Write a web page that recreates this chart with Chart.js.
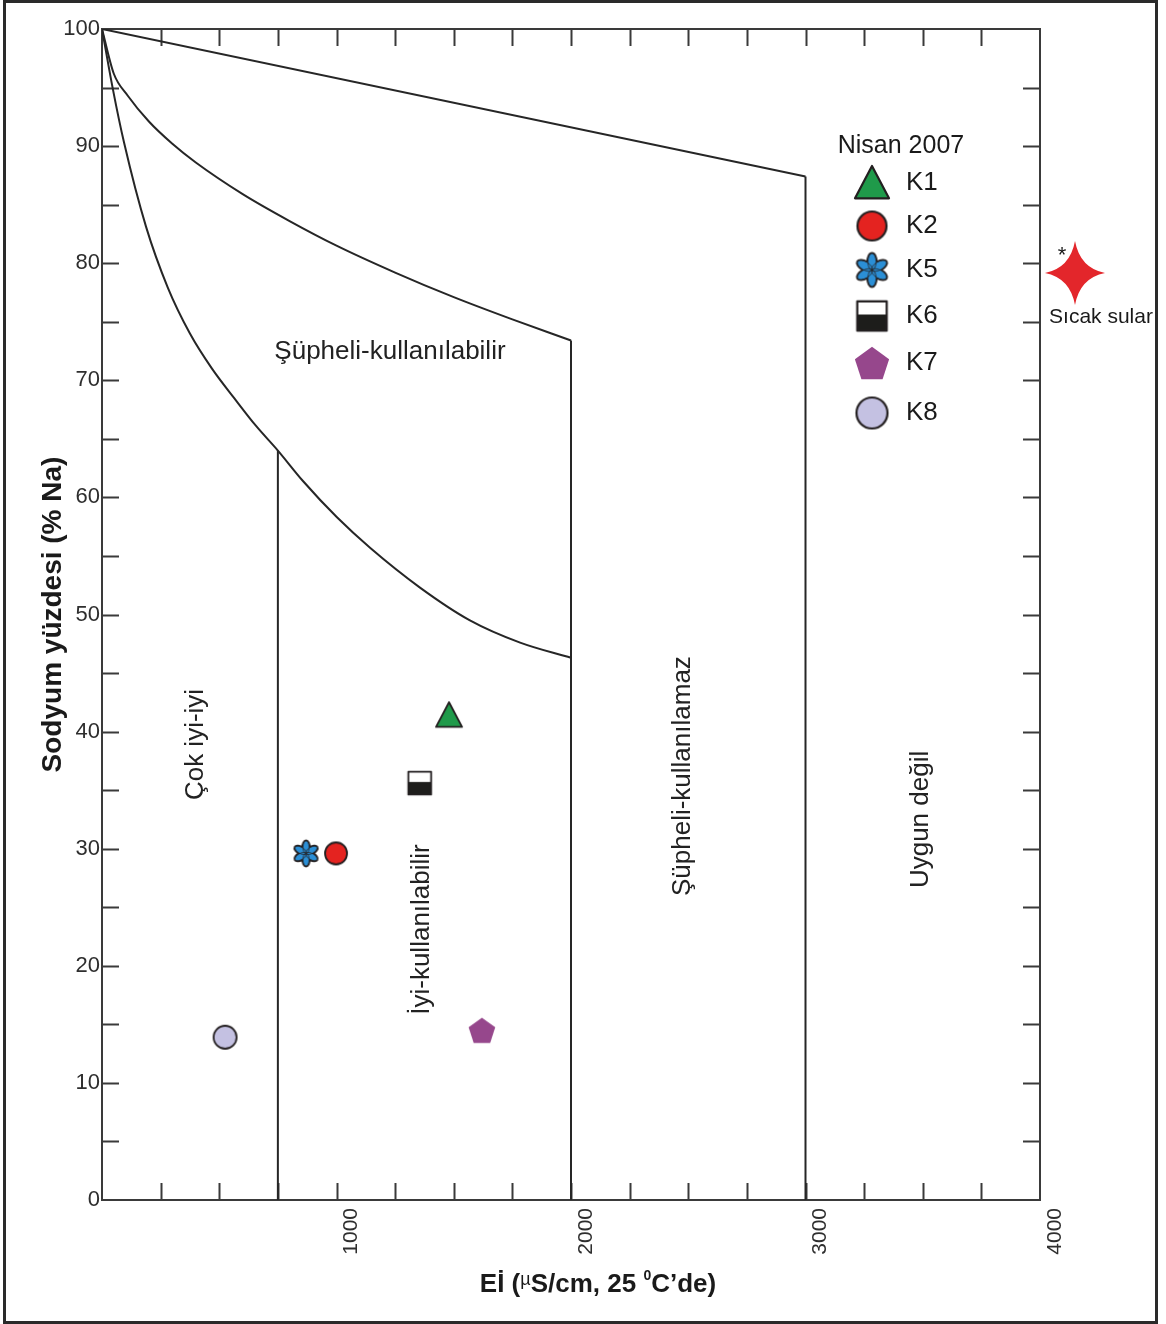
<!DOCTYPE html>
<html lang="tr">
<head>
<meta charset="UTF-8" />
<meta name="viewport" content="width=device-width, initial-scale=1.0" />
<title>Wilcox Diyagramı - Nisan 2007</title>
<style>
    html, body { margin: 0; padding: 0; background: #fff; }
    #grafik { display: block; }
</style>
</head>
<body>
<canvas id="grafik" width="1166" height="1324"></canvas>

<script src="https://cdn.jsdelivr.net/npm/chart.js"></script>
<script>
    // Örnek noktaları (Nisan 2007)
    const kuyular = ["K1", "K2", "K5", "K6", "K7", "K8"];
    const ecDegerleri = [1480, 998, 870, 1355, 1620, 525];
    const naDegerleri = [41.4, 29.6, 29.6, 35.6, 14.5, 13.9];

    // Sınıf sınırları (diyagramdan okunan noktalar)
    const ustCizgiX = [0, 3000];
    const ustCizgiY = [100, 87.4];
    const ortaEgriX = [0, 50, 110, 200, 300, 400, 600, 800, 1000, 1250, 1500, 1750, 2000];
    const ortaEgriY = [100, 96.2, 94.3, 92.1, 90.2, 88.6, 85.9, 83.6, 81.5, 79.2, 77.1, 75.2, 73.4];
    const altEgriX = [0, 47, 94, 188, 281, 375, 469, 563, 657, 750, 857, 1002, 1143, 1356, 1569, 1783, 2000];
    const altEgriY = [100, 94.8, 90.3, 83.1, 77.9, 74.0, 71.0, 68.5, 66.1, 64, 61.4, 58.3, 55.7, 52.3, 49.5, 47.6, 46.3];
    const dikeyX = [750, 2000, 3000];
    const dikeyUstY = [64, 73.4, 87.4];

    // Eksen çentikleri ve etiketleri
    const xEtiketleri = [1000, 2000, 3000, 4000];
    const yEtiketleri = [0, 10, 20, 30, 40, 50, 60, 70, 80, 90, 100];

    const bolgeAdlari = ["Çok iyi-iyi", "İyi-kullanılabilir", "Şüpheli-kullanılabilir", "Şüpheli-kullanılamaz", "Uygun değil"];

    // --- görünüm ayarları ---
    const YAZI = '"Liberation Sans", Arial, Helvetica, sans-serif';
    Chart.defaults.font.family = YAZI;

    const isaretStili = {
        K1: { tur: "ucgen", renk: "#1f9a4a", boy: 26 },
        K2: { tur: "daire", renk: "#e42320", boy: 24 },
        K5: { tur: "cicek", renk: "#2b8fd6", boy: 25 },
        K6: { tur: "yarimKare", renk: "#1d1d1b", boy: 24 },
        K7: { tur: "besgen", renk: "#96478c", boy: 28 },
        K8: { tur: "daire", renk: "#c4c1e2", boy: 25 }
    };
    const lejantSatirlari = [0, 43, 87, 133, 180, 230];

    // bölge adlarının yeri (veri koordinatında) ve yönü
    const bolgeYerleri = [
        { x: 400, y: 38.9, dikey: true },
        { x: 1365, y: 23.1, dikey: true },
        { x: 1228, y: 72.4, dikey: false },
        { x: 2478, y: 36.2, dikey: true },
        { x: 3493, y: 32.5, dikey: true }
    ];

    function isaret(tur, renk, boy) {
        const pay = 3;
        const c = document.createElement("canvas");
        c.width = c.height = Math.ceil(boy + pay * 2);
        const g = c.getContext("2d");
        const m = c.width / 2, r = boy / 2;
        g.lineWidth = boy > 28 ? 2.2 : 1.8;
        g.strokeStyle = "#231f20";
        g.lineJoin = "round";
        g.fillStyle = renk;
        if (tur === "daire") {
            g.beginPath();
            g.arc(m, m, r - 1, 0, Math.PI * 2);
            g.fill();
            g.stroke();
        } else if (tur === "ucgen") {
            g.beginPath();
            g.moveTo(m, m - r);
            g.lineTo(m + r, m + r * 0.9);
            g.lineTo(m - r, m + r * 0.9);
            g.closePath();
            g.fill();
            g.stroke();
        } else if (tur === "yarimKare") {
            const k = r * 0.95;
            g.fillStyle = "#fff";
            g.fillRect(m - k, m - k, 2 * k, 2 * k);
            g.fillStyle = renk;
            g.fillRect(m - k, m - k * 0.1, 2 * k, k * 1.1);
            g.strokeRect(m - k, m - k, 2 * k, 2 * k);
        } else if (tur === "besgen") {
            g.beginPath();
            for (let i = 0; i < 5; i++) {
                const a = -Math.PI / 2 + i * 2 * Math.PI / 5;
                g.lineTo(m + r * Math.cos(a), m + r * Math.sin(a) + r * 0.1);
            }
            g.closePath();
            g.fill();
        } else if (tur === "cicek") {
            // önce kalın dış kontur, sonra dolgu, sonra ince iç çizgiler
            const yaprak = i => {
                const a = i * Math.PI / 3 - Math.PI / 2;
                g.beginPath();
                g.ellipse(m + Math.cos(a) * r * 0.5, m + Math.sin(a) * r * 0.5, r * 0.5, r * 0.25, a, 0, Math.PI * 2);
            };
            g.lineWidth = 3;
            for (let i = 0; i < 6; i++) { yaprak(i); g.stroke(); }
            for (let i = 0; i < 6; i++) { yaprak(i); g.fill(); }
            g.lineWidth = 0.8;
            for (let i = 0; i < 6; i++) { yaprak(i); g.stroke(); }
        }
        return c;
    }

    function yildiz(yukseklik, genislik) {
        const c = document.createElement("canvas");
        c.width = genislik + 4;
        c.height = yukseklik + 4;
        const g = c.getContext("2d");
        const mx = c.width / 2, my = c.height / 2;
        const ry = yukseklik / 2, rx = genislik / 2, ic = 5;
        g.fillStyle = "#e3262b";
        g.beginPath();
        g.moveTo(mx, my - ry);
        g.quadraticCurveTo(mx + ic, my - ic, mx + rx, my);
        g.quadraticCurveTo(mx + ic, my + ic, mx, my + ry);
        g.quadraticCurveTo(mx - ic, my + ic, mx - rx, my);
        g.quadraticCurveTo(mx - ic, my - ic, mx, my - ry);
        g.fill();
        return c;
    }

    const isaretVeri = kuyular.map((k, i) => {
        const s = isaretStili[k];
        return {
            label: k,
            data: [{ x: ecDegerleri[i], y: naDegerleri[i] }],
            pointStyle: isaret(s.tur, s.renk, s.boy),
            lejantIsareti: isaret(s.tur, s.renk, Math.round(s.boy * 1.3)),
            pointRadius: 12,
            showLine: false
        };
    });

    function cizgi(xs, ys, egri) {
        return {
            label: "",
            data: xs.map((v, i) => ({ x: v, y: ys[i] })),
            showLine: true,
            pointRadius: 0,
            borderColor: "#262626",
            borderWidth: 2,
            cubicInterpolationMode: egri ? "monotone" : "default",
            tension: 0,
            fill: false
        };
    }

    const cizgiVeri = [
        cizgi(ustCizgiX, ustCizgiY, false),
        cizgi(ortaEgriX, ortaEgriY, true),
        cizgi(altEgriX, altEgriY, true)
    ];
    dikeyX.forEach((x, i) => cizgiVeri.push(cizgi([x, x], [0, dikeyUstY[i]], false)));

    function zenginYazi(ctx, parcalar, cx, cy) {
        let toplam = 0;
        parcalar.forEach(p => { ctx.font = p.f; p.w = ctx.measureText(p.t).width; toplam += p.w; });
        let x = cx - toplam / 2;
        ctx.textAlign = "left";
        ctx.textBaseline = "middle";
        parcalar.forEach(p => {
            ctx.font = p.f;
            ctx.fillText(p.t, x, cy + (p.dy || 0));
            x += p.w;
        });
    }

    const cizimEklentisi = {
        id: "wilcoxCizim",
        beforeDatasetsDraw(chart) {
            const { ctx, chartArea: a, scales: { x, y } } = chart;
            ctx.save();
            ctx.strokeStyle = "#3a3a3a";
            ctx.lineWidth = 2;
            ctx.strokeRect(a.left, a.top, a.right - a.left, a.bottom - a.top);

            // içe bakan çentikler
            const cent = 17;
            ctx.beginPath();
            x.ticks.forEach(t => {
                const px = Math.round(x.getPixelForValue(t.value)) + 0.5;
                if (px <= a.left + 2 || px >= a.right - 2) return;
                ctx.moveTo(px, a.bottom); ctx.lineTo(px, a.bottom - cent);
                ctx.moveTo(px, a.top); ctx.lineTo(px, a.top + cent);
            });
            y.ticks.forEach(t => {
                const py = Math.round(y.getPixelForValue(t.value)) + 0.5;
                if (py <= a.top + 2 || py >= a.bottom - 2) return;
                ctx.moveTo(a.left, py); ctx.lineTo(a.left + cent, py);
                ctx.moveTo(a.right, py); ctx.lineTo(a.right - cent, py);
            });
            ctx.stroke();

            // bölge adları
            ctx.fillStyle = "#222";
            ctx.font = "26px " + YAZI;
            ctx.textAlign = "center";
            ctx.textBaseline = "middle";
            bolgeAdlari.forEach((ad, i) => {
                const yer = bolgeYerleri[i];
                ctx.save();
                ctx.translate(x.getPixelForValue(yer.x), y.getPixelForValue(yer.y));
                if (yer.dikey) ctx.rotate(-Math.PI / 2);
                ctx.fillText(ad, 0, 0);
                ctx.restore();
            });
            ctx.restore();
        },
        afterDraw(chart) {
            const { ctx, chartArea: a } = chart;
            ctx.save();

            // x ekseni başlığı
            ctx.fillStyle = "#1a1a1a";
            const kalin = "bold 26px " + YAZI;
            zenginYazi(ctx, [
                { t: "Eİ (", f: kalin },
                { t: "µ", f: "18px " + YAZI, dy: -5 },
                { t: "S/cm, 25 ", f: kalin },
                { t: "0", f: "bold 14px " + YAZI, dy: -9 },
                { t: "C’de)", f: kalin }
            ], (a.left + a.right) / 2 + 27, 1285);

            // lejant
            const lx = a.right - 168, ly = a.top + 154;
            ctx.textBaseline = "middle";
            ctx.textAlign = "center";
            ctx.font = "25px " + YAZI;
            ctx.fillText("Nisan 2007", a.right - 139, a.top + 117);
            ctx.font = "26px " + YAZI;
            ctx.textAlign = "left";
            let sira = 0;
            chart.data.datasets.forEach(ds => {
                if (!ds.lejantIsareti) return;
                const yy = ly + lejantSatirlari[sira];
                const im = ds.lejantIsareti;
                ctx.drawImage(im, lx - im.width / 2, yy - im.height / 2);
                ctx.fillText(ds.label, a.right - 134, yy);
                sira++;
            });

            // sıcak sular işareti
            const sx = a.right + 35, sy = a.top + 244;
            const yl = yildiz(64, 60);
            ctx.drawImage(yl, sx - yl.width / 2, sy - yl.height / 2);
            ctx.font = "22px " + YAZI;
            ctx.textAlign = "center";
            ctx.fillText("*", sx - 13, sy - 17);
            ctx.font = "21px " + YAZI;
            ctx.fillText("Sıcak sular", sx + 26, sy + 44);

            // dış çerçeve
            ctx.strokeStyle = "#2a2a2a";
            ctx.lineWidth = 3;
            ctx.strokeRect(4.5, 1.5, 1152, 1321);
            ctx.restore();
        }
    };

    const grafik = new Chart(document.getElementById("grafik"), {
        type: "scatter",
        data: { datasets: [...isaretVeri, ...cizgiVeri] },
        options: {
            responsive: false,
            animation: false,
            events: [],
            layout: { padding: { top: 29, right: 126, left: 0, bottom: 0 } },
            plugins: {
                legend: { display: false },
                tooltip: { enabled: false }
            },
            scales: {
                x: {
                    type: "linear",
                    min: 0,
                    max: 4000,
                    afterFit: s => { s.height = 124; },
                    grid: { display: false, drawTicks: false },
                    border: { display: false },
                    ticks: {
                        stepSize: 250,
                        autoSkip: false,
                        minRotation: 90,
                        maxRotation: 90,
                        padding: 8,
                        labelOffset: 15,
                        color: "#2e2e2e",
                        font: { size: 21 },
                        callback: v => xEtiketleri.includes(v) ? String(v) : ""
                    }
                },
                y: {
                    min: 0,
                    max: 100,
                    afterFit: s => { s.width = 102; },
                    grid: { display: false, drawTicks: false },
                    border: { display: false },
                    ticks: {
                        stepSize: 5,
                        autoSkip: false,
                        padding: 2,
                        color: "#2e2e2e",
                        font: { size: 22 },
                        callback: v => yEtiketleri.includes(v) ? String(v) : ""
                    },
                    title: {
                        display: true,
                        text: "Sodyum yüzdesi (% Na)",
                        color: "#1a1a1a",
                        font: { size: 28, weight: "bold" },
                        padding: { top: 36, bottom: 0 }
                    }
                }
            }
        },
        plugins: [cizimEklentisi]
    });
</script>
</body>
</html>
